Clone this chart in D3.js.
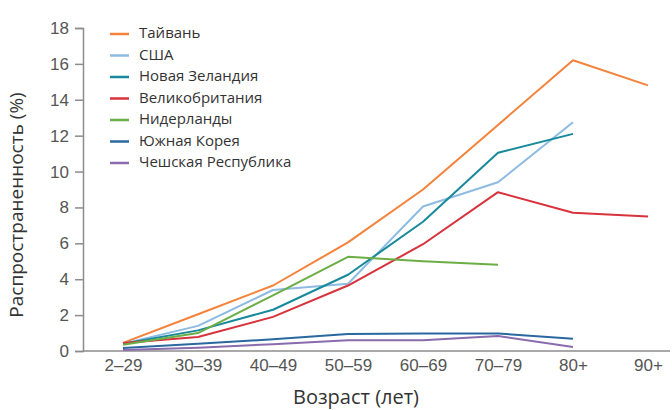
<!DOCTYPE html>
<html><head><meta charset="utf-8">
<script src="https://cdn.jsdelivr.net/npm/d3@7"></script>
<style>body{margin:0;background:#fff}svg{display:block}</style>
</head><body>
<svg id="chart" width="672" height="410"></svg>
<script>
const categories = ["2–29","30–39","40–49","50–59","60–69","70–79","80+","90+"];
const yTicks = [0,2,4,6,8,10,12,14,16,18];
const seriesNames = ["Тайвань","США","Новая Зеландия","Великобритания","Нидерланды","Южная Корея","Чешская Республика"];
const seriesColors = ["#f5823a","#8dbbe2","#17899b","#d8323c","#6bae45","#2a68a0","#8a6bae"];
const taiwan = [0.45,2.05,3.65,6.05,9.0,12.6,16.2,14.8];
const usa = [0.4,1.4,3.4,3.75,8.05,9.4,12.75,null];
const newZealand = [0.4,1.15,2.3,4.25,7.2,11.05,12.1,null];
const uk = [0.45,0.78,1.9,3.65,5.95,8.85,7.7,7.5];
const netherlands = [0.35,1.0,3.1,5.25,5.0,4.8,null,null];
const southKorea = [0.17,0.4,0.65,0.95,0.97,0.98,0.68,null];
const czech = [0.05,0.18,0.38,0.6,0.6,0.83,0.22,null];
const seriesValues = [taiwan,usa,newZealand,uk,netherlands,southKorea,czech];

const svg = d3.select("#chart");
const x = d3.scalePoint().domain(categories).range([123,648]);
const y = d3.scaleLinear().domain([0,18]).range([351,28]);

// axes
const yAxis = svg.append("g").attr("transform","translate(83,0)")
  .call(d3.axisLeft(y).tickValues(yTicks).tickSize(8).tickPadding(6));
yAxis.select(".domain").attr("stroke","#8c8c8c").attr("stroke-width",1.5);
yAxis.selectAll(".tick line").attr("stroke","#8c8c8c").attr("stroke-width",1.5);
yAxis.selectAll(".tick text").attr("fill","#555").style("font-family","'Liberation Sans',Arial,sans-serif").style("font-size","17px");

const xAxis = svg.append("g").attr("transform","translate(0,351)")
  .call(d3.axisBottom(x).tickSize(0).tickPadding(8));
xAxis.select(".domain").attr("d","M83,0H670").attr("stroke","#8c8c8c").attr("stroke-width",1.5);
xAxis.selectAll(".tick text").attr("fill","#555").style("font-family","'Liberation Sans',Arial,sans-serif").style("font-size","17px");

// lines
const line = d3.line().defined(d=>d.v!=null).x(d=>x(d.c)).y(d=>y(d.v));
seriesValues.forEach((vals,i)=>{
  svg.append("path")
    .datum(vals.map((v,j)=>({c:categories[j],v})))
    .attr("fill","none").attr("stroke",seriesColors[i]).attr("stroke-width",2)
    .attr("stroke-linejoin","round")
    .attr("d",line);
});

// legend
const lg = svg.append("g");
seriesNames.forEach((n,i)=>{
  const yy = 33 + i*21.5;
  lg.append("line").attr("x1",110).attr("x2",129).attr("y1",yy+1).attr("y2",yy+1)
    .attr("stroke",seriesColors[i]).attr("stroke-width",2.5);
  lg.append("text").attr("x",139).attr("y",yy).attr("dy","0.35em")
    .attr("fill","#333").style("font-family","'Open Sans',sans-serif").style("font-size","15px")
    .text(n);
});

// axis titles
svg.append("text").attr("transform","translate(23,205) rotate(-90)")
  .attr("text-anchor","middle").attr("fill","#333")
  .style("font-family","'Open Sans',sans-serif").style("font-size","19px")
  .text("Распространенность (%)");
svg.append("text").attr("x",356).attr("y",404).attr("text-anchor","middle").attr("fill","#333")
  .style("font-family","'Open Sans',sans-serif").style("font-size","20px")
  .text("Возраст (лет)");
</script>
</body></html>
